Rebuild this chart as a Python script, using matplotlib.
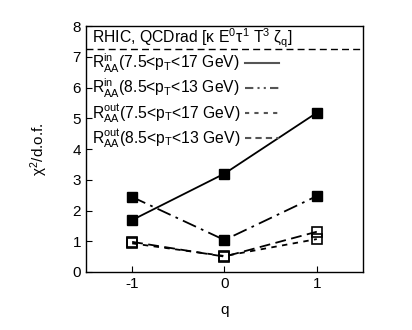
import matplotlib
matplotlib.use("Agg")
import matplotlib.pyplot as plt
from matplotlib.lines import Line2D

plt.rcParams['font.family'] = ['Liberation Sans', 'DejaVu Sans']
plt.rcParams['mathtext.fontset'] = 'custom'
plt.rcParams['mathtext.rm'] = 'Liberation Sans'
plt.rcParams['mathtext.it'] = 'Liberation Sans'
plt.rcParams['axes.unicode_minus'] = False

q = [-1, 0, 1]
in_wide = [1.69, 3.20, 5.18]
in_narrow = [2.44, 1.04, 2.47]
out_wide = [0.93, 0.52, 1.07]
out_narrow = [0.98, 0.50, 1.31]
labels = [r"$\mathrm{R^{in}_{AA}}$(7.5<p$_\mathrm{T}$<17 GeV)",
          r"$\mathrm{R^{in}_{AA}}$(8.5<p$_\mathrm{T}$<13 GeV)",
          r"$\mathrm{R^{out}_{AA}}$(7.5<p$_\mathrm{T}$<17 GeV)",
          r"$\mathrm{R^{out}_{AA}}$(8.5<p$_\mathrm{T}$<13 GeV)"]
title_line = 7.25

fig = plt.figure(figsize=(4.12, 3.30), dpi=100)
ax = fig.add_axes([0.2087, 0.1758, 0.6723, 0.7452])

ax.plot(q, in_wide, ls='-', color='k', lw=1.3, marker='s', ms=6.5, mfc='k', mec='k')
ax.plot(q, in_narrow, ls=(0, (8, 3, 1.5, 3)), color='k', lw=1.3, marker='s', ms=6.5, mfc='k', mec='k')
ax.plot(q, out_wide, ls=(0, (3, 3)), color='k', lw=1.3, marker='s', ms=6.5, mfc='none', mec='k', mew=1.2)
ax.plot(q, out_narrow, ls=(0, (6, 3)), color='k', lw=1.3, marker='s', ms=6.5, mfc='none', mec='k', mew=1.2)

ax.axhline(title_line, color='k', lw=1.0, ls=(0, (5, 3)))
ax.text(-1.44, 7.6, r"RHIC, QCDrad [$\kappa$ E$^0\tau^1$ T$^3$ $\zeta_\mathrm{q}$]",
        fontsize=11.3, va='center', ha='left')

handles = [Line2D([], [], color='#555555', lw=1.5, ls='-'),
           Line2D([], [], color='#555555', lw=1.5, ls=(0, (4, 2, 1, 2, 1, 2))),
           Line2D([], [], color='#555555', lw=1.5, ls=(0, (2, 2.5))),
           Line2D([], [], color='#555555', lw=1.5, ls=(0, (3, 2)))]
ax.legend(handles, labels, loc='upper left', bbox_to_anchor=(0.02, 0.895),
          frameon=False, markerfirst=False, fontsize=11.3, handlelength=2.2,
          handletextpad=0.3, labelspacing=0.14, borderaxespad=0, borderpad=0)

ax.set_xlim(-1.5, 1.5)
ax.set_ylim(0, 8)
ax.set_xticks([-1, 0, 1])
ax.set_yticks(range(0, 9))
ax.tick_params(direction='in', top=False, right=False, labelsize=11, length=4)
ax.set_xlabel("q", fontsize=11, labelpad=9)
ax.set_ylabel(r"$\chi^2$/d.o.f.", fontsize=11, labelpad=16)
for s in ax.spines.values():
    s.set_linewidth(1.0)

fig.savefig("out.png", dpi=100)
